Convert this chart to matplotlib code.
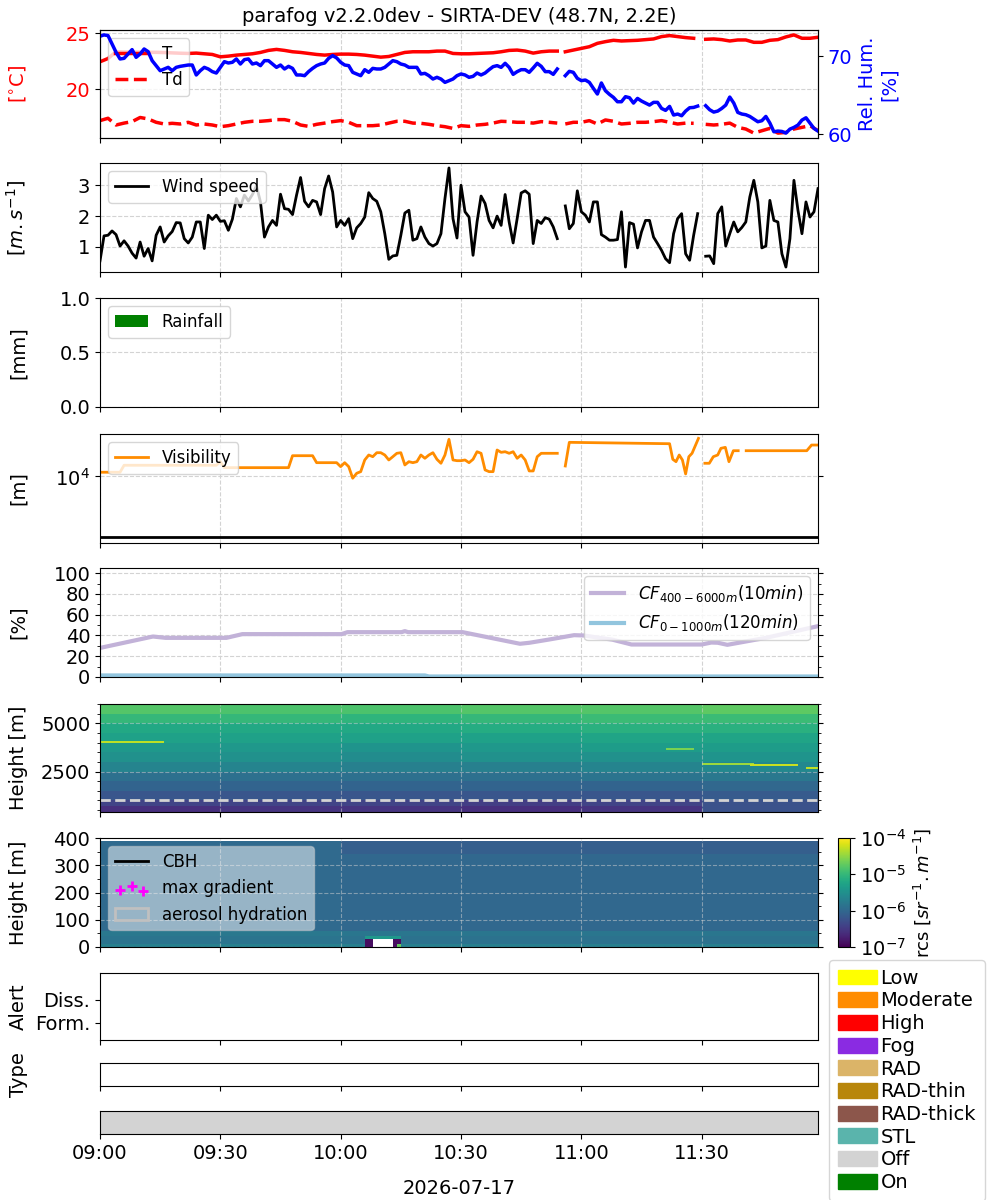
import numpy as np
import pandas as pd
import matplotlib
matplotlib.use('Agg')
import matplotlib.pyplot as plt
import matplotlib.dates as mdates
import matplotlib.patches as mpatches
from matplotlib.colors import LogNorm
from matplotlib.ticker import MultipleLocator, NullLocator

plt.rcParams['font.size'] = 14

nan = np.nan
day = pd.Timestamp('2026-07-17 09:00')

# ---- thermo (minutes after 09:00) ----
t_thermo = np.r_[np.arange(0, 115, 2), 115, np.arange(116, 150, 2), 150, np.arange(151, 180, 2)]
temp = [22.46, 22.75, 23.35, 23.33, 23.33, 23.32, 23.30, 23.30, 23.28, 23.25,
        23.22, 23.20, 23.23, 23.17, 23.11, 22.90, 22.96, 23.05, 23.11, 23.17,
        23.29, 23.47, 23.56, 23.47, 23.35, 23.29, 23.20, 23.11, 23.05, 23.11,
        23.14, 23.14, 23.11, 23.05, 22.96, 22.87, 22.93, 23.11, 23.29, 23.35,
        23.35, 23.35, 23.41, 23.41, 23.20, 23.17, 23.17, 23.20, 23.23, 23.26,
        23.35, 23.47, 23.50, 23.41, 23.23, 23.35, 23.41, 23.41,
        nan,
        23.35, 23.50, 23.65, 23.80, 24.10, 24.25, 24.37, 24.31, 24.34, 24.37,
        24.43, 24.49, 24.70, 24.79, 24.70, 24.61, 24.55,
        nan,
        24.46, 24.49, 24.43, 24.31, 24.40, 24.40, 24.19, 24.19, 24.37, 24.43,
        24.67, 24.85, 24.55, 24.55, 24.64]
dewp = [17.22, 17.43, 16.83, 17.00, 17.13, 17.50, 17.37, 17.07, 16.92, 16.98,
        16.92, 17.07, 16.83, 16.92, 16.83, 16.68, 16.77, 16.92, 17.07, 17.16,
        17.16, 17.22, 17.31, 17.31, 17.16, 16.83, 16.71, 16.89, 17.00, 17.13,
        17.22, 17.07, 16.77, 16.77, 16.77, 16.83, 17.00, 17.16, 17.16, 17.00,
        16.98, 16.89, 16.77, 16.68, 16.53, 16.77, 16.71, 16.83, 16.89, 17.00,
        17.16, 17.13, 17.07, 17.07, 17.00, 17.13, 17.07, 17.00,
        nan,
        16.92, 17.07, 17.07, 17.22, 16.92, 17.28, 17.16, 16.92, 16.98, 17.07,
        17.07, 17.13, 17.22, 17.07, 16.92, 17.00, 16.98,
        nan,
        16.89, 16.83, 16.89, 17.00, 16.62, 16.47, 16.11, 16.32, 16.53, 16.11,
        16.17, 16.47, 16.62, 16.77, 16.32]

# ---- 1-minute series ----
t_min = np.arange(180)
rh = [72.58, 72.75, 72.66, 71.59, 70.52, 69.66, 69.74, 70.30, 70.86, 69.87,
      70.30, 70.94, 70.60, 69.44, 68.80, 68.15, 68.37, 68.58, 68.15, 68.58,
      68.71, 68.80, 68.88, 68.88, 67.60, 68.15, 68.58, 68.37, 68.03, 67.85,
      68.58, 69.31, 69.14, 69.23, 69.66, 69.01, 69.57, 69.66, 69.01, 69.14,
      68.80, 69.44, 69.44, 69.01, 68.58, 68.88, 68.37, 68.71, 68.45, 67.60,
      67.60, 67.51, 68.03, 68.45, 68.80, 69.01, 69.14, 69.74, 70.09, 69.79,
      69.23, 68.88, 68.80, 67.94, 67.73, 67.51, 68.28, 67.94, 68.45, 68.37,
      68.37, 68.58, 69.01, 69.44, 69.31, 69.01, 68.88, 68.58, 68.58, 68.58,
      67.73, 67.81, 67.51, 67.08, 67.30, 67.08, 66.65, 66.87, 67.08, 67.51,
      67.73, 67.60, 67.30, 67.42, 67.85, 67.60, 67.85, 68.28, 68.67, 68.80,
      68.58, 69.10, 68.58, 67.68, 68.03, 68.28, 68.28, 67.94, 68.50, 69.10,
      68.71, 68.03, 68.03, 67.68, 68.37, nan, 67.51, 68.07, 67.94, 67.17,
      66.87, 66.95, 66.65, 65.88, 65.15, 66.57, 65.58, 65.11, 64.72, 64.16,
      64.16, 64.81, 64.68, 63.99, 64.59, 64.25, 63.99, 63.73, 64.08, 64.08,
      63.30, 63.05, 63.56, 62.45, 62.58, 62.36, 62.96, 63.39, 63.43, 63.60,
      nan, 63.65, 63.13, 62.83, 62.96, 63.30, 63.73, 64.76, 63.99, 62.79,
      62.58, 62.49, 62.27, 61.93, 61.59, 61.72, 62.27, 61.42, 60.30, 60.39,
      60.34, 60.13, 60.64, 60.86, 61.16, 61.80, 62.10, 61.42, 60.73, 60.39]
wind = [0.55, 1.36, 1.38, 1.52, 1.40, 1.03, 1.20, 1.03, 0.80, 0.64,
        1.16, 0.70, 0.95, 0.55, 1.38, 1.65, 1.16, 1.36, 1.50, 1.79,
        1.78, 1.27, 1.13, 1.32, 1.81, 1.81, 0.95, 2.03, 1.89, 2.03,
        1.83, 1.85, 1.54, 1.90, 2.57, 2.30, 2.68, 2.49, 2.70, 2.98,
        2.46, 1.32, 1.65, 1.86, 1.70, 2.71, 2.24, 2.22, 2.05, 2.68,
        3.25, 2.48, 2.30, 2.51, 2.46, 2.05, 2.89, 3.30, 2.78, 1.65,
        1.86, 1.70, 1.92, 1.27, 1.62, 1.76, 1.97, 2.76, 2.57, 2.48,
        2.14, 1.43, 0.60, 0.71, 0.73, 1.38, 2.10, 2.19, 1.22, 1.27,
        1.65, 1.32, 1.11, 1.03, 1.11, 1.43, 2.57, 3.56, 1.92, 1.29,
        3.00, 2.14, 1.97, 0.73, 1.81, 2.65, 2.41, 1.86, 1.62, 2.00,
        1.70, 2.70, 1.81, 1.13, 1.92, 2.75, 2.82, 2.71, 1.11, 1.86,
        1.76, 1.95, 1.90, 1.65, 1.27, nan, 2.33, 1.59, 1.76, 2.82,
        2.14, 2.03, 1.81, 2.46, 2.46, 1.40, 1.32, 1.22, 1.22, 1.24,
        2.14, 0.35, 1.79, 1.74, 0.97, 1.49, 1.86, 1.86, 1.32, 1.11,
        0.89, 0.62, 0.49, 1.43, 1.92, 2.08, 0.78, 0.57, 1.38, 2.08,
        nan, 0.70, 0.71, 0.46, 2.08, 2.30, 1.03, 1.43, 1.81, 1.49,
        1.63, 1.81, 2.62, 3.16, 2.46, 0.97, 1.03, 2.51, 1.86, 1.81,
        0.78, 0.35, 1.27, 3.16, 2.19, 1.43, 2.46, 1.97, 2.14, 2.89]

rain_t = [0, 10, 20, 30, 40, 50, 60, 70, 80, 90, 100, 110, 120, 130, 140, 150, 160, 170]
rain_mm = [0.0, 0.0, 0.0, 0.0, 0.0, 0.0, 0.0, 0.0, 0.0, 0.0, 0.0, 0.0, 0.0, 0.0, 0.0, 0.0, 0.0, 0.0]

vis_t = [0, 5, 6, 29, 30, 31, 47, 48, 53, 54,
         59, 60, 61, 62, 63, 64, 65, 66, 67, 68, 69, 70, 71, 72, 73, 74, 75, 76, 77, 78,
         79, 80, 81, 82, 83, 84, 85, 86, 87, 88, 89, 90, 91, 92, 93, 94, 95, 96, 97, 98,
         99, 100, 101, 102, 103, 104, 105, 106, 107, 108, 109, 110,
         114, 115, 116, 117,
         142, 142.8, 143.6, 144.4, 145.2, 146, 146.8, 147.6, 149.2,
         150, 150.8, 151.9, 152.9, 154, 154.8, 155.9, 156.8, 157.9, 159.1,
         160, 161.1, 176.2, 177.4, 179]
vis_m = [11720, 11720, 15270, 15270, 17500, 13950, 13950, 21950, 21950, 16850,
         16850, 14490, 16850, 14490, 9340, 11280, 11990, 18660, 22540, 21140,
         24600, 24600, 22540, 18660, 21140, 24040, 24600, 15450, 17500, 16850,
         17500, 22540, 19900, 22540, 24600, 19150, 16470, 22540, 40800, 18660,
         18170, 18170, 18660, 16850, 19150, 25530, 24040, 12790, 11990, 11990,
         27240, 24950, 25530, 24040, 25530, 19900, 22540, 18660, 12310, 12310,
         21140, 24040,
         24040, nan, 14860, 36440,
         34590, 19150, 17500, 22540, 18660, 10990, 21140, 24040, 42380,
         nan, 16470, 16470, 21140, 22540, 29040, 30140, 17500, 26530, 26530,
         nan, 26530, 26530, 32900, 32900]

cf_high_t = [0, 13.2, 16.4, 31.5, 35.5, 60.2, 61.7, 75.2, 76, 76.8, 90.4, 104.7, 107.1,
             111.8, 118.2, 120.6, 124.6, 127.7, 132.5, 150, 152.4, 154, 156.4, 166, 179]
cf_high = [28, 39, 37.7, 37.7, 41.3, 41.3, 43.2, 43.2, 44.2, 43.2, 43.2, 32, 33,
           36, 40.3, 40, 37.7, 36, 31.3, 31.3, 33.2, 33, 31, 37.7, 49]
cf_low_t = [0, 81, 82, 179]
cf_low = [1.5, 1.5, 0.5, 0.5]

# ---- lidar (log10 rcs) ----
top_band_edges = [400, 700, 1000, 1500, 2000, 2500, 3000, 3500, 4000, 4500, 5000, 5500, 6000]
top_block_start = [0, 30, 60, 90, 120, 150]
top_table = [
    [-6.60, -6.40, -6.20, -6.05, -5.90, -5.65, -5.50, -5.40, -5.30, -5.20, -5.00, -4.80],
    [-6.55, -6.40, -6.20, -6.05, -5.90, -5.65, -5.50, -5.40, -5.30, -5.20, -5.00, -4.85],
    [-6.55, -6.40, -6.20, -6.05, -5.90, -5.70, -5.55, -5.45, -5.30, -5.20, -5.05, -4.85],
    [-6.60, -6.45, -6.20, -6.05, -5.90, -5.70, -5.50, -5.40, -5.30, -5.15, -5.00, -4.80],
    [-6.55, -6.40, -6.20, -6.05, -5.85, -5.65, -5.50, -5.35, -5.25, -5.10, -4.95, -4.80],
    [-6.25, -6.25, -6.15, -6.00, -5.80, -5.60, -5.45, -5.35, -5.25, -5.10, -4.95, -4.75],
]
# thin bright layers: start min, end min, base m, top m, log10 rcs
top_layers = [
    (0, 16, 3980, 4100, -4.3),
    (141, 148, 3580, 3680, -4.6),
    (150, 163, 2830, 2930, -4.45),
    (162, 174, 2780, 2900, -4.25),
    (176, 180, 2630, 2750, -4.3),
]

low_band_edges = [0, 10, 40, 60, 340, 390]
low_early = [-5.70, -5.85, -5.80, -5.97, -5.97]
low_late = [-5.72, -5.87, -5.82, -6.00, -6.10]
low_split = 60
# patches near the ground: start min, end min, base m, top m, log10 rcs (nan = no data)
low_patches = [
    (66, 75, 30, 40, -5.40),
    (66, 68, 0, 30, -6.90),
    (73, 75, 0, 30, -6.90),
    (68, 73, 0, 30, nan),
    (74, 75, 0, 10, -4.70),
]

status_periods = [(0, 180, 'Off')]

legend_colors = {'Low': 'yellow', 'Moderate': 'darkorange', 'High': 'red', 'Fog': 'blueviolet',
                 'RAD': '#dbb468', 'RAD-thin': 'darkgoldenrod', 'RAD-thick': '#8c564b',
                 'STL': '#5ab4ac', 'Off': 'lightgray', 'On': 'green'}


def to_num(minutes):
    return mdates.date2num(day + pd.to_timedelta(np.asarray(minutes, dtype=float), unit='min'))


def box(top_px, bot_px):
    return [0.10, 1 - bot_px / 1200, 0.718, (bot_px - top_px) / 1200]


fig = plt.figure(figsize=(10, 12), dpi=100)
ax_t = fig.add_axes(box(30, 138))
ax_w = fig.add_axes(box(163, 272), sharex=ax_t)
ax_r = fig.add_axes(box(298, 407), sharex=ax_t)
ax_v = fig.add_axes(box(434, 543), sharex=ax_t)
ax_cf = fig.add_axes(box(568, 677), sharex=ax_t)
ax_l1 = fig.add_axes(box(704, 812), sharex=ax_t)
ax_l2 = fig.add_axes(box(838, 947), sharex=ax_t)
ax_al = fig.add_axes(box(973, 1040), sharex=ax_t)
ax_ty = fig.add_axes(box(1063, 1086), sharex=ax_t)
ax_st = fig.add_axes(box(1111, 1134), sharex=ax_t)
axes = [ax_t, ax_w, ax_r, ax_v, ax_cf, ax_l1, ax_l2, ax_al, ax_ty, ax_st]

grid_kw = dict(ls='--', color='lightgray', lw=0.8)

# 1. temperature / humidity
ax_t.plot(to_num(t_thermo), temp, color='red', lw=2.5, label='T')
ax_t.plot(to_num(t_thermo), dewp, color='red', lw=2.5, ls='--', label='Td')
ax_t.set_ylabel(r'[$^{\circ}$C]', color='red')
ax_t.tick_params(axis='y', labelcolor='red')
ax_t.legend(loc='upper left', fontsize=12)
ax_t.grid(True, **grid_kw)
ax_t.set_title('parafog v2.2.0dev - SIRTA-DEV (48.7N, 2.2E)', fontsize=14)
ax_rh = ax_t.twinx()
ax_rh.plot(to_num(t_min), rh, color='blue', lw=2.5)
ax_rh.set_ylabel('Rel. Hum.\n[%]', color='blue')
ax_rh.tick_params(axis='y', labelcolor='blue')

# 2. wind
ax_w.plot(to_num(t_min), wind, color='black', lw=2, label='Wind speed')
ax_w.set_ylabel(r'$[m.s^{-1}]$')
ax_w.legend(loc='upper left', fontsize=12)
ax_w.grid(True, **grid_kw)

# 3. rain
ax_r.bar(to_num(rain_t), rain_mm, width=10 / 1440, align='edge', color='green', label='Rainfall')
ax_r.set_ylim(0, 1)
ax_r.set_yticks([0, 0.5, 1.0])
ax_r.set_ylabel('[mm]')
ax_r.legend(loc='upper left', fontsize=12)
ax_r.grid(True, **grid_kw)

# 4. visibility
ax_v.plot(to_num(vis_t), vis_m, color='darkorange', lw=2, label='Visibility')
ax_v.axhline(1000, color='black', lw=2)
ax_v.set_yscale('log')
ax_v.set_ylim(800, 50000)
ax_v.set_yticks([1e4])
ax_v.yaxis.set_minor_locator(NullLocator())
ax_v.yaxis.set_ticks_position('both')
ax_v.set_ylabel('[m]')
ax_v.legend(loc='upper left', fontsize=12)
ax_v.grid(True, **grid_kw)

# 5. cloud fraction
ax_cf.plot(to_num(cf_high_t), cf_high, color='#c2b2d8', lw=3, label=r'$CF_{400-6000m}(10min)$')
ax_cf.plot(to_num(cf_low_t), cf_low, color='#92c5de', lw=3, label=r'$CF_{0-1000m}(120min)$')
ax_cf.set_ylim(0, 105)
ax_cf.set_yticks([0, 20, 40, 60, 80, 100])
ax_cf.yaxis.set_minor_locator(MultipleLocator(10))
ax_cf.yaxis.set_ticks_position('both')
ax_cf.set_ylabel('[%]')
ax_cf.legend(loc='upper right', fontsize=12)
ax_cf.grid(True, **grid_kw)

# 6./7. lidar
norm = LogNorm(1e-7, 1e-4)
t_edges = to_num(np.arange(181))
minutes = np.arange(180)

top_h = np.arange(400, 6001, 50)
top_mid = (top_h[:-1] + top_h[1:]) / 2
band_i = np.searchsorted(top_band_edges, top_mid) - 1
block_i = np.searchsorted(top_block_start, minutes, side='right') - 1
top_log = np.array(top_table)[block_i][:, band_i].T
for t0, t1, h0, h1, val in top_layers:
    top_log[np.ix_((top_mid >= h0) & (top_mid < h1), (minutes >= t0) & (minutes < t1))] = val
ax_l1.pcolormesh(t_edges, top_h, 10.0 ** top_log, cmap='viridis', norm=norm)
ax_l1.axhline(1000, color='lightgray', ls='--', lw=2)
ax_l1.set_ylim(400, 6000)
ax_l1.set_yticks([2500, 5000])
ax_l1.yaxis.set_minor_locator(MultipleLocator(500))
ax_l1.yaxis.set_ticks_position('both')
ax_l1.set_ylabel('Height [m]')
ax_l1.grid(True, ls='--', color='lightgray', lw=0.8, alpha=0.5)

low_h = np.arange(0, 391, 10)
low_mid = (low_h[:-1] + low_h[1:]) / 2
lb = np.searchsorted(low_band_edges, low_mid) - 1
low_log = np.where(minutes[None, :] < low_split,
                   np.array(low_early)[lb][:, None], np.array(low_late)[lb][:, None])
for t0, t1, h0, h1, val in low_patches:
    low_log[np.ix_((low_mid >= h0) & (low_mid < h1), (minutes >= t0) & (minutes < t1))] = val
mesh = ax_l2.pcolormesh(t_edges, low_h, np.ma.masked_invalid(10.0 ** low_log), cmap='viridis', norm=norm)
ax_l2.set_ylim(0, 400)
ax_l2.set_yticks([0, 100, 200, 300, 400])
ax_l2.yaxis.set_minor_locator(MultipleLocator(50))
ax_l2.yaxis.set_ticks_position('both')
ax_l2.set_ylabel('Height [m]')
ax_l2.grid(True, ls='--', color='lightgray', lw=0.8, alpha=0.5)
ax_l2.plot([], [], color='black', lw=2, label='CBH')
ax_l2.scatter([], [], marker='+', color='magenta', s=50, linewidths=2, label='max gradient')
ax_l2.add_patch(mpatches.Rectangle((0, 0), 0, 0, facecolor='none', edgecolor='silver', lw=2,
                                   label='aerosol hydration'))
ax_l2.legend(loc='upper left', fontsize=12, framealpha=0.5, scatterpoints=3,
             scatteryoffsets=[0.3, 0.6, 0.2])

cax = fig.add_axes([0.838, 1 - 947 / 1200, 0.012, 109 / 1200])
cb = fig.colorbar(mesh, cax=cax)
cb.set_ticks([1e-7, 1e-6, 1e-5, 1e-4])
cb.ax.minorticks_off()
cb.set_label(r'rcs [$sr^{-1}.m^{-1}$]', fontsize=13)

# 8. alerts
ax_al.set_ylim(-0.74, 2.17)
ax_al.set_yticks([0, 1])
ax_al.set_yticklabels(['Form.', 'Diss.'])
ax_al.set_ylabel('Alert')

# 9. fog type
ax_ty.set_yticks([])
ax_ty.set_ylabel('Type')

# 10. status
for start, end, state in status_periods:
    ax_st.broken_barh([(to_num(start), to_num(end) - to_num(start))], (0, 1),
                      facecolors=legend_colors[state])
ax_st.set_ylim(0, 1)
ax_st.set_yticks([])

ax_t.set_xlim(to_num(0), to_num(179))
ax_t.xaxis.set_major_locator(mdates.MinuteLocator(byminute=[0, 30]))
ax_t.xaxis.set_major_formatter(mdates.DateFormatter('%H:%M'))
for ax in axes[:-1]:
    ax.tick_params(labelbottom=False)
ax_st.set_xlabel('2026-07-17', labelpad=12)

for ax in axes:
    ax.yaxis.set_label_coords(-0.1, 0.5)

handles = [mpatches.Patch(color=c, label=k) for k, c in legend_colors.items()]
fig.legend(handles=handles, loc='upper left', bbox_to_anchor=(0.829, 0.2), fontsize=14,
           handlelength=2.0, handleheight=0.8, borderaxespad=0.0, labelspacing=0.19,
           handletextpad=0.2, borderpad=0.45)

fig.savefig('out.png', dpi=100)
